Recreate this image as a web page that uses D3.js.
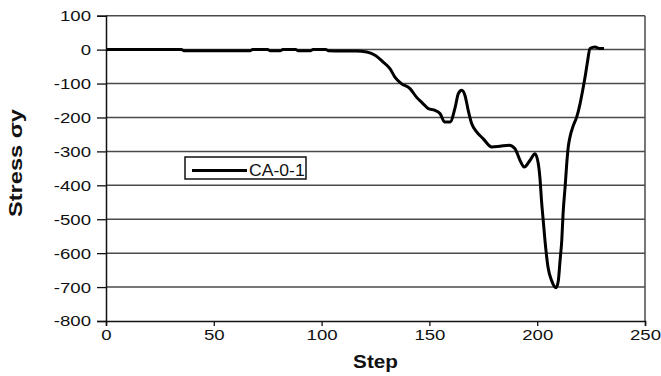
<!DOCTYPE html>
<html>
<head>
<meta charset="utf-8">
<script src="https://cdn.jsdelivr.net/npm/d3@7"></script>
<style>
  body { margin: 0; background: #fff; }
  svg { display: block; font-family: "Liberation Sans", Arial, sans-serif; }
</style>
</head>
<body>
<div id="viz"></div>
<script>
const steps = [0, 35, 36, 67, 68, 75, 76, 81, 82, 88, 89, 95, 96, 102, 103, 110, 116, 121, 125, 128.6,
  131.7, 134, 137, 141, 144, 147, 149.5, 152.6, 155, 157, 159.6, 162, 163.4, 165, 166.5, 168, 169.6,
  172, 175, 178.9, 182.7, 187, 189.7, 192, 194, 196.7, 199, 200.5, 201.3, 202, 202.8, 203.6, 205,
  206.7, 208.7, 209.8, 210.6, 211.4, 212, 213, 213.7, 214.4, 215.2, 216.8, 218.3, 219.9, 221.1,
  222.2, 223.2, 224.5, 226.8, 229, 231];
const stress = [0, 0, -3, -3, 0, 0, -3, -3, 0, 0, -3, -3, 0, 0, -3, -4, -4, -7, -17, -37,
  -56, -81, -100, -115, -140, -159, -174, -179, -189, -213, -213, -169, -130, -120, -135, -179, -218,
  -243, -263, -287, -285, -282, -292, -326, -346, -326, -307, -336, -380, -445, -504, -562, -641,
  -681, -702, -681, -622, -562, -484, -400, -336, -287, -258, -223, -199, -159, -120,
  -81, -41, 3, 8, 3, 3];
const xTicks = [0, 50, 100, 150, 200, 250];
const yTicks = [100, 0, -100, -200, -300, -400, -500, -600, -700, -800];
const seriesName = "CA-0-1";

const width = 661, height = 376;
const margin = { left: 106, right: 16, top: 15.7, bottom: 55 };
const stretch = 1.2; // the original's font renders wide

const svg = d3.select("#viz").append("svg")
  .attr("width", width)
  .attr("height", height);

const x = d3.scaleLinear().domain([0, 250]).range([margin.left, width - margin.right]);
const y = d3.scaleLinear().domain([-800, 100]).range([height - margin.bottom, margin.top]);

// gridlines
svg.append("g")
  .selectAll("line")
  .data(yTicks.filter(d => d > -800))
  .join("line")
  .attr("x1", x(0)).attr("x2", x(250))
  .attr("y1", d => y(d)).attr("y2", d => y(d))
  .attr("stroke", "#4a4a4a")
  .attr("stroke-width", 1.5);

// right border
svg.append("line")
  .attr("x1", x(250)).attr("x2", x(250))
  .attr("y1", y(100)).attr("y2", y(-800))
  .attr("stroke", "#4a4a4a")
  .attr("stroke-width", 1.5);

// plain hyphen minus like the original, not d3's unicode minus
const fmt = d => String(d);

const xAxis = svg.append("g")
  .attr("transform", `translate(0,${y(-800)})`)
  .call(d3.axisBottom(x).tickValues(xTicks).tickFormat(fmt).tickSize(5).tickPadding(3));

const yAxis = svg.append("g")
  .attr("transform", `translate(${x(0)},0)`)
  .call(d3.axisLeft(y).tickValues(yTicks).tickFormat(fmt).tickSize(9).tickPadding(5));

[xAxis, yAxis].forEach(g => {
  g.select(".domain").attr("stroke", "#111").attr("stroke-width", 1.5);
  g.selectAll(".tick line").attr("stroke", "#111").attr("stroke-width", 1.3);
  g.selectAll("text")
    .attr("fill", "#111")
    .style("font-size", "15.5px")
    .style("font-family", "'Liberation Sans', Arial, sans-serif")
    .attr("transform", `scale(${stretch},1)`);
});
yAxis.selectAll("text").attr("x", -15 / stretch);

const line = d3.line()
  .x((d, i) => x(steps[i]))
  .y(d => y(d))
  .curve(d3.curveMonotoneX);

svg.append("path")
  .datum(stress)
  .attr("d", line)
  .attr("fill", "none")
  .attr("stroke", "#000")
  .attr("stroke-width", 3)
  .attr("stroke-linejoin", "round");

// axis titles
svg.append("text")
  .text("Step")
  .attr("transform", `translate(${(x(0) + x(250)) / 2},368) scale(1.15,1)`)
  .attr("text-anchor", "middle")
  .style("font-size", "18px")
  .style("font-weight", "bold")
  .attr("fill", "#111");

svg.append("text")
  .text("Stress σy")
  .attr("transform", "translate(22,163) rotate(-90)")
  .attr("text-anchor", "middle")
  .attr("textLength", 108)
  .attr("lengthAdjust", "spacingAndGlyphs")
  .style("font-size", "18px")
  .style("font-weight", "bold")
  .attr("fill", "#111");

// legend
const legend = svg.append("g");
legend.append("rect")
  .attr("x", 185).attr("y", 157)
  .attr("width", 121).attr("height", 22)
  .attr("fill", "#fff")
  .attr("stroke", "#111")
  .attr("stroke-width", 1.5);
legend.append("line")
  .attr("x1", 192).attr("x2", 247)
  .attr("y1", 170.5).attr("y2", 170.5)
  .attr("stroke", "#000")
  .attr("stroke-width", 3);
legend.append("text")
  .text(seriesName)
  .attr("transform", "translate(249,176) scale(1.1,1)")
  .style("font-size", "16px")
  .attr("fill", "#111");
</script>
</body>
</html>
